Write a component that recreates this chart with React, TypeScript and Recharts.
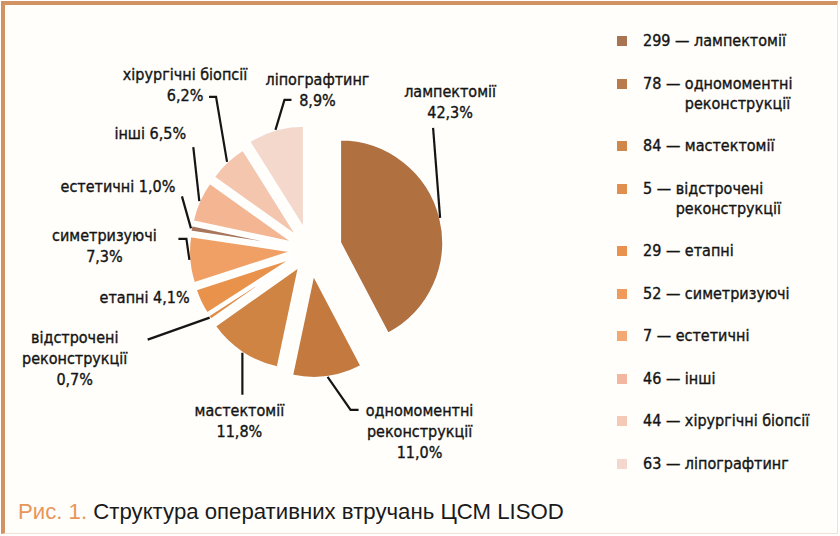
import React from 'react';
import { PieChart, Pie, Cell, Sector, Legend } from 'recharts';

// ---------- data ----------
const categories = [
  'лампектомії',
  'одномоментні реконструкції',
  'мастектомії',
  'відстрочені реконструкції',
  'етапні',
  'симетризуючі',
  'естетичні',
  'інші',
  'хірургічні біопсії',
  'ліпографтинг',
];
const counts = [299, 78, 84, 5, 29, 52, 7, 46, 44, 63];
const percentLabels = ['42,3%', '11,0%', '11,8%', '0,7%', '4,1%', '7,3%', '1,0%', '6,5%', '6,2%', '8,9%'];
// how each category name wraps onto lines
const nameLines = [
  ['лампектомії'],
  ['одномоментні', 'реконструкції'],
  ['мастектомії'],
  ['відстрочені', 'реконструкції'],
  ['етапні'],
  ['симетризуючі'],
  ['естетичні'],
  ['інші'],
  ['хірургічні біопсії'],
  ['ліпографтинг'],
];
const caption = 'Структура оперативних втручань ЦСМ LISOD';
const captionPrefix = 'Рис. 1.';

// ---------- styles ----------
const sliceColors = ['#b0703f', '#c47a3e', '#cf8444', '#df8c48', '#e8924c', '#f0a064', '#a8765c', '#f4b592', '#f3c6ad', '#f4d8cb'];
const legendColors = ['#a87452', '#b97a4c', '#d0884a', '#e08f4e', '#e9914e', '#f09a5c', '#f2a974', '#f2b79e', '#f4cab6', '#f4d8cd'];
const explode = [31, 25, 20, 18, 18, 18, 18, 18, 18, 22];
// label layout: text centre offset (tx,ty) from slice outer midpoint; leader line end (lx,ly); hook length hx; inline percent
const labelLayout = [
  { tx: 10, ty: -116, lx: -7, ly: -90, hx: 0, inline: false, line: true },
  { tx: 92, ty: 55, lx: 23, ly: 33, hx: 8, inline: false, line: true },
  { tx: -3, ty: 68, lx: 0, ly: 42, hx: 0, inline: false, line: true },
  { tx: -135, ty: 41, lx: -62, ly: 22, hx: 0, inline: false, line: true },
  { tx: -56, ty: -4, lx: 0, ly: 0, hx: 0, inline: true, line: false },
  { tx: -85, ty: -14, lx: -3, ly: -21, hx: -8, inline: false, line: true },
  { tx: -73, ty: -42, lx: -9, ly: -32, hx: 0, inline: true, line: true },
  { tx: -49, ty: -68, lx: -6, ly: -54, hx: 0, inline: true, line: true },
  { tx: -42, ty: -77, lx: -11, ly: -65, hx: -7, inline: false, line: true },
  { tx: 42, ty: -40, lx: 9, ly: -30, hx: 7, inline: false, line: true },
];

const FONT = "'Liberation Sans Narrow', 'DejaVu Sans Condensed', 'Liberation Sans', sans-serif";
const RAD = Math.PI / 180;

const data = categories.map((name, i) => ({ name, value: counts[i] }));

const idxOf = (p: any) => {
  if (typeof p.index === 'number') return p.index;
  const n = p.payload?.name ?? p.name;
  return categories.indexOf(n);
};

const renderSlice = (p: any) => {
  const i = idxOf(p);
  const d = explode[i] ?? 0;
  const ox = d * Math.cos(-p.midAngle * RAD);
  const oy = d * Math.sin(-p.midAngle * RAD);
  return (
    <Sector
      cx={p.cx + ox}
      cy={p.cy + oy}
      innerRadius={p.innerRadius}
      outerRadius={p.outerRadius}
      startAngle={p.startAngle}
      endAngle={p.endAngle}
      fill={p.fill}
      stroke="#ffffff"
      strokeWidth={2}
    />
  );
};

const renderLabel = (p: any) => {
  const i = idxOf(p);
  const L = labelLayout[i];
  const r = p.outerRadius + explode[i];
  const mx = p.cx + r * Math.cos(-p.midAngle * RAD);
  const my = p.cy + r * Math.sin(-p.midAngle * RAD);
  const lines = L.inline
    ? [...nameLines[i].slice(0, -1), nameLines[i][nameLines[i].length - 1] + ' ' + percentLabels[i]]
    : [...nameLines[i], percentLabels[i]];
  const lh = 21;
  const tx = mx + L.tx;
  const ty = my + L.ty;
  const top = ty - ((lines.length - 1) * lh) / 2;
  const ex = mx + L.lx;
  const ey = my + L.ly;
  const pts = `${mx},${my} ${ex},${ey}` + (L.hx ? ` ${ex + L.hx},${ey}` : '');
  return (
    <g key={`lbl-${i}`}>
      {L.line && <polyline points={pts} stroke="#151515" strokeWidth={2.2} fill="none" />}
      <text
        textAnchor="middle"
        fontFamily={FONT}
        fontSize={16}
        fill="#141414"
        stroke="#141414"
        strokeWidth={0.35}
      >
        {lines.map((s, k) => (
          <tspan key={k} x={tx} y={top + k * lh} dominantBaseline="central">
            {s}
          </tspan>
        ))}
      </text>
    </g>
  );
};

const renderLegend = () => (
  <div style={{ fontFamily: FONT, fontSize: 16, color: '#141414', WebkitTextStroke: '0.35px #141414' }}>
    {categories.map((c, i) => (
      <div key={c} style={{ display: 'flex', alignItems: 'flex-start', lineHeight: '20px', marginBottom: 22.5 }}>
        <span
          style={{
            display: 'inline-block',
            width: 10,
            height: 10,
            marginTop: 5,
            marginRight: 16,
            background: legendColors[i],
          }}
        />
        <span style={{ whiteSpace: 'pre' }}>{`${counts[i]} — `}</span>
        <span>
          {nameLines[i].map((s, k) => (
            <div key={k}>{s}</div>
          ))}
        </span>
      </div>
    ))}
  </div>
);

export default function App() {
  return (
    <div style={{ position: 'relative', width: 840, height: 536, background: '#ffffff', overflow: 'hidden' }}>
      <style>{`body{margin:0;}`}</style>
      <div
        style={{
          position: 'absolute',
          left: 1,
          top: 1,
          width: 832,
          height: 528,
          borderTop: '4px solid #d39262',
          borderLeft: '4px solid #d39262',
          borderRight: '1px solid #f1e2d2',
          borderBottom: '1px solid #f1e2d2',
          background: '#fffefa',
        }}
      />
      <div style={{ position: 'absolute', left: 0, top: 0 }}>
        <PieChart width={840} height={490} margin={{ top: 0, right: 0, bottom: 0, left: 0 }}>
          <Pie
            data={data}
            dataKey="value"
            nameKey="name"
            cx={310}
            cy={250}
            outerRadius={103}
            startAngle={90}
            endAngle={-270}
            isAnimationActive={false}
            shape={renderSlice}
            activeShape={renderSlice}
            inactiveShape={renderSlice}
            label={renderLabel}
            labelLine={false}
            stroke="#ffffff"
          >
            {data.map((d, i) => (
              <Cell key={d.name} fill={sliceColors[i]} />
            ))}
          </Pie>
          <Legend
            content={renderLegend}
            layout="vertical"
            align="right"
            verticalAlign="top"
            wrapperStyle={{ left: 617, top: 31, width: 222 }}
          />
        </PieChart>
      </div>
      <div
        style={{
          position: 'absolute',
          left: 18,
          top: 499,
          fontFamily: "'Liberation Sans', Arial, sans-serif",
          fontSize: 22.2,
          color: '#1a1a1a',
          whiteSpace: 'pre',
        }}
      >
        <span style={{ color: '#e8965a' }}>{captionPrefix}</span> {caption}
      </div>
    </div>
  );
}
